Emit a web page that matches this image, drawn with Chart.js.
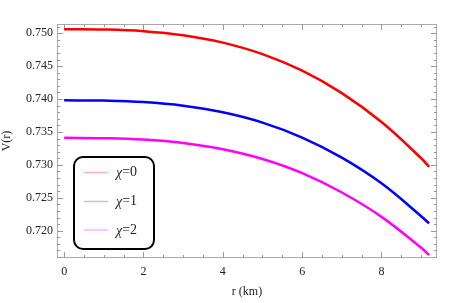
<!DOCTYPE html>
<html lang="en">
<head>
  <meta charset="UTF-8" />
  <title>V(r)</title>
  <script src="https://cdn.jsdelivr.net/npm/chart.js"></script>
  <style>
    body { margin: 0; background: white; }
    #wrap { width: 463px; height: 303px; }
  </style>
</head>
<body>
  <div id="wrap"><canvas id="grafica" width="463" height="303"></canvas></div>
  <script>
    // values
    const radios = [0, 1, 2, 3, 4, 5, 6, 7, 8, 9, 9.2];
    const chi0 = [0.75060, 0.75056, 0.75031, 0.74970, 0.74857, 0.74682, 0.74430, 0.74090, 0.73650, 0.73100, 0.72970];
    const chi1 = [0.73980, 0.73976, 0.73954, 0.73899, 0.73798, 0.73642, 0.73415, 0.73110, 0.72720, 0.72220, 0.72110];
    const chi2 = [0.73410, 0.73406, 0.73385, 0.73333, 0.73237, 0.73088, 0.72873, 0.72580, 0.72210, 0.71740, 0.71630];
    const etiquetas = ['\u03c7=0', '\u03c7=1', '\u03c7=2'];
    const xTicks = [0, 2, 4, 6, 8];
    const yTicks = [0.720, 0.725, 0.730, 0.735, 0.740, 0.745, 0.750];

    const serie = (vals) => radios.map((r, i) => ({ x: r, y: vals[i] }));

    // mathematica-style frame with inward ticks + legend box
    const marco = {
      id: 'marco',
      beforeDatasetsDraw(chart) {
        const ctx = chart.ctx, a = chart.chartArea;
        const sx = chart.scales.x, sy = chart.scales.y;
        ctx.save();
        ctx.strokeStyle = '#aaaaaa';
        ctx.lineWidth = 1;
        ctx.strokeRect(a.left + 0.5, a.top + 0.5, a.right - a.left - 1, a.bottom - a.top - 1);
        ctx.strokeStyle = '#999999';
        ctx.beginPath();
        for (let k = 0; k <= 18; k++) {
          const v = k * 0.5;
          const px = Math.round(sx.getPixelForValue(v)) + 0.5;
          if (px < a.left || px > a.right) continue;
          const len = (k % 4 === 0) ? 6 : 3;
          ctx.moveTo(px, a.bottom); ctx.lineTo(px, a.bottom - len);
          ctx.moveTo(px, a.top); ctx.lineTo(px, a.top + len);
        }
        for (let k = 716; k <= 751; k++) {
          const v = k / 1000;
          const py = Math.round(sy.getPixelForValue(v)) + 0.5;
          if (py < a.top || py > a.bottom) continue;
          const len = (k % 5 === 0) ? 6 : 3;
          ctx.moveTo(a.left, py); ctx.lineTo(a.left + len, py);
          ctx.moveTo(a.right, py); ctx.lineTo(a.right - len, py);
        }
        ctx.stroke();
        ctx.restore();
      },
      afterDatasetsDraw(chart) {
        const ctx = chart.ctx;
        const bx = 74, by = 157, bw = 80, bh = 92;
        ctx.save();
        ctx.fillStyle = 'white';
        ctx.strokeStyle = 'black';
        ctx.lineWidth = 2;
        ctx.beginPath();
        ctx.roundRect(bx, by, bw, bh, 9);
        ctx.fill();
        ctx.stroke();
        const pale = ['rgba(255,0,0,0.3)', 'rgba(0,0,255,0.25)', 'rgba(255,0,255,0.3)'];
        const filas = [172.5, 201.5, 230];
        chart.data.datasets.forEach((d, i) => {
          ctx.strokeStyle = pale[i];
          ctx.lineWidth = 1.5;
          ctx.beginPath();
          ctx.moveTo(84, filas[i]); ctx.lineTo(108, filas[i]);
          ctx.stroke();
          ctx.fillStyle = '#222';
          ctx.textBaseline = 'middle';
          ctx.font = 'italic 14px "Liberation Serif"';
          ctx.fillText('\u03c7', 116, filas[i] + 1);
          const w = ctx.measureText('\u03c7').width;
          ctx.font = '14px "Liberation Serif"';
          ctx.fillText(d.label.slice(1), 116 + w, filas[i]);
        });
        ctx.restore();
      }
    };

    new Chart(document.getElementById('grafica'), {
      type: 'line',
      data: {
        datasets: [
          { label: etiquetas[0], data: serie(chi0), borderColor: '#ff0000' },
          { label: etiquetas[1], data: serie(chi1), borderColor: '#0000ff' },
          { label: etiquetas[2], data: serie(chi2), borderColor: '#ff00ff' }
        ]
      },
      options: {
        responsive: false,
        animation: false,
        events: [],
        layout: { padding: { top: 24, right: 26, left: 0, bottom: 0 } },
        elements: {
          point: { radius: 0 },
          line: { borderWidth: 2.5, tension: 0.4, fill: false }
        },
        plugins: { legend: { display: false }, tooltip: { enabled: false } },
        scales: {
          x: {
            type: 'linear', min: -0.18, max: 9.40,
            grid: { display: false, drawTicks: false },
            border: { display: false },
            afterBuildTicks: (s) => { s.ticks = xTicks.map(v => ({ value: v })); },
            afterFit: (s) => { s.height = 45; },
            ticks: { color: '#222', padding: 7, font: { family: 'Liberation Serif', size: 12 }, maxRotation: 0 },
            title: { display: true, text: 'r (km)', color: '#222', padding: { top: 0, bottom: 4 }, font: { family: 'Liberation Serif', size: 12 } }
          },
          y: {
            min: 0.71585, max: 0.7514,
            grid: { display: false, drawTicks: false },
            border: { display: false },
            afterBuildTicks: (s) => { s.ticks = yTicks.map(v => ({ value: v })); },
            afterFit: (s) => { s.width = 57; },
            ticks: { color: '#222', padding: 4, font: { family: 'Liberation Serif', size: 12 }, callback: (v) => v.toFixed(3) },
            title: { display: true, text: 'V(r)', color: '#222', padding: { top: 0, bottom: 0 }, font: { family: 'Liberation Serif', size: 12 } }
          }
        }
      },
      plugins: [marco]
    });
  </script>
</body>
</html>
